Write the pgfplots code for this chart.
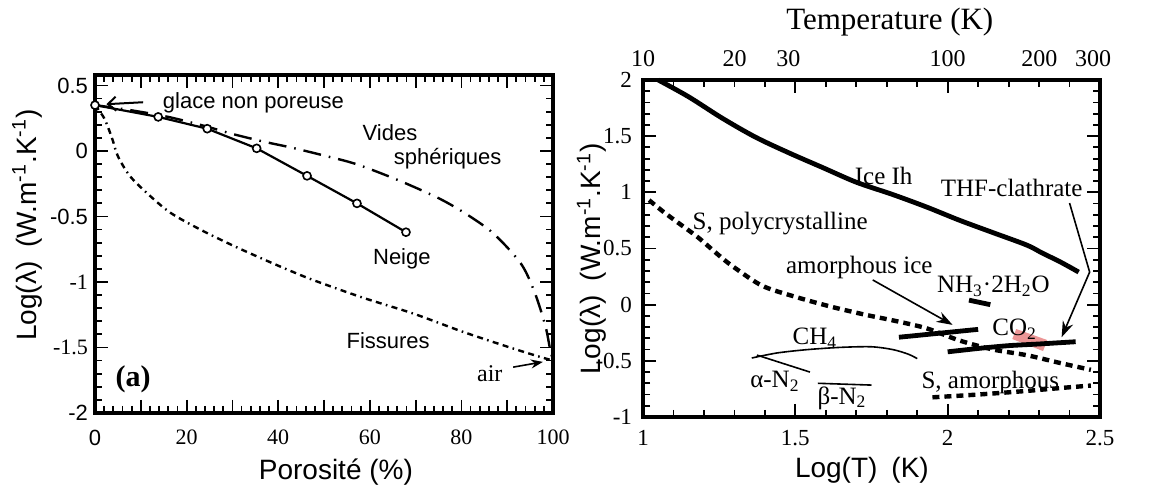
\documentclass[border=0pt]{standalone}
\usepackage{pgfplots}
\pgfplotsset{compat=1.18}
\usepackage{fontspec}
\setmainfont{Liberation Serif}
\setsansfont{Liberation Sans}
\usetikzlibrary{arrows.meta}
\newcommand{\fs}[1]{\fontsize{#1}{#1}\selectfont}
\definecolor{hl}{RGB}{228,105,105}
\pgfplotsset{
  tkv/.style={only marks, mark=|, mark options={solid, line width=0.9pt, black}},
  tkh/.style={only marks, mark=-, mark options={solid, line width=0.9pt, black}},
}
\begin{document}
\begin{tikzpicture}
% ---------------- left panel ----------------
\begin{axis}[
  at={(47.5pt,39.5pt)}, anchor=south west, scale only axis,
  width=229pt, height=169pt,
  xmin=0, xmax=100, ymin=-2, ymax=0.58, clip=false,
  axis on top,
  tick style={color=black, line width=0.9pt},
  major tick length=6.5pt, minor tick length=3.5pt,
  axis line style={line width=2pt},
  xtick={0,10,...,100}, xticklabels={{\sffamily 0},,20,,40,,60,,80,,100},
  minor x tick num=4,
  ytick={-2,-1.5,-1,-0.5,0,0.5},
  yticklabels={{\sffamily -2},-1.5,-1,{\sffamily -0.5},{\sffamily 0},{\sffamily 0.5}},
  minor y tick num=4,
  tick label style={font=\fs{11}},
  x tick label style={yshift=-5pt},
]
% tick marks (inside)
\addplot[tkv, mark size=3.25pt] coordinates {(10,-1.9504)(20,-1.9504)(30,-1.9504)(40,-1.9504)(50,-1.9504)(60,-1.9504)(70,-1.9504)(80,-1.9504)(90,-1.9504)
(10,0.5304)(20,0.5304)(30,0.5304)(40,0.5304)(50,0.5304)(60,0.5304)(70,0.5304)(80,0.5304)(90,0.5304)};
\addplot[tkv, mark size=1.75pt] coordinates {(2,-1.9733)(4,-1.9733)(6,-1.9733)(8,-1.9733)(12,-1.9733)(14,-1.9733)(16,-1.9733)(18,-1.9733)(22,-1.9733)(24,-1.9733)(26,-1.9733)(28,-1.9733)(32,-1.9733)(34,-1.9733)(36,-1.9733)(38,-1.9733)(42,-1.9733)(44,-1.9733)(46,-1.9733)(48,-1.9733)(52,-1.9733)(54,-1.9733)(56,-1.9733)(58,-1.9733)(62,-1.9733)(64,-1.9733)(66,-1.9733)(68,-1.9733)(72,-1.9733)(74,-1.9733)(76,-1.9733)(78,-1.9733)(82,-1.9733)(84,-1.9733)(86,-1.9733)(88,-1.9733)(92,-1.9733)(94,-1.9733)(96,-1.9733)(98,-1.9733)
(2,0.5533)(4,0.5533)(6,0.5533)(8,0.5533)(12,0.5533)(14,0.5533)(16,0.5533)(18,0.5533)(22,0.5533)(24,0.5533)(26,0.5533)(28,0.5533)(32,0.5533)(34,0.5533)(36,0.5533)(38,0.5533)(42,0.5533)(44,0.5533)(46,0.5533)(48,0.5533)(52,0.5533)(54,0.5533)(56,0.5533)(58,0.5533)(62,0.5533)(64,0.5533)(66,0.5533)(68,0.5533)(72,0.5533)(74,0.5533)(76,0.5533)(78,0.5533)(82,0.5533)(84,0.5533)(86,0.5533)(88,0.5533)(92,0.5533)(94,0.5533)(96,0.5533)(98,0.5533)};
\addplot[tkh, mark size=3.25pt] coordinates {(1.419,-1.5)(1.419,-1)(1.419,-0.5)(1.419,0)(1.419,0.5)
(98.581,-1.5)(98.581,-1)(98.581,-0.5)(98.581,0)(98.581,0.5)};
\addplot[tkh, mark size=1.75pt] coordinates {(0.764,-1.9)(0.764,-1.8)(0.764,-1.7)(0.764,-1.6)(0.764,-1.4)(0.764,-1.3)(0.764,-1.2)(0.764,-1.1)(0.764,-0.9)(0.764,-0.8)(0.764,-0.7)(0.764,-0.6)(0.764,-0.4)(0.764,-0.3)(0.764,-0.2)(0.764,-0.1)(0.764,0.1)(0.764,0.2)(0.764,0.3)(0.764,0.4)
(99.236,-1.9)(99.236,-1.8)(99.236,-1.7)(99.236,-1.6)(99.236,-1.4)(99.236,-1.3)(99.236,-1.2)(99.236,-1.1)(99.236,-0.9)(99.236,-0.8)(99.236,-0.7)(99.236,-0.6)(99.236,-0.4)(99.236,-0.3)(99.236,-0.2)(99.236,-0.1)(99.236,0.1)(99.236,0.2)(99.236,0.3)(99.236,0.4)};
% Fissures
\addplot[mark=none, line width=1.2pt, dash pattern=on 3pt off 2.2pt on 3pt off 2.2pt on 0.8pt off 2.2pt, smooth] coordinates {
(0,0.35) (2,0.25) (3.7,0.10) (5,-0.04) (7.6,-0.19) (11.3,-0.32) (16.4,-0.47) (23,-0.60) (30,-0.72) (37,-0.83) (43,-0.92) (48,-0.99) (58.5,-1.12) (69.4,-1.24) (80.3,-1.38) (90.6,-1.50) (97,-1.57) (100,-1.60)};
% Vides spheriques
\addplot[mark=none, line width=1.2pt, dash pattern=on 9pt off 4pt on 0.8pt off 4pt, smooth] coordinates {
(0,0.35) (8,0.31) (16,0.26) (24,0.19) (30,0.13) (37,0.07) (43,0.025) (50,-0.035) (57,-0.10) (66,-0.22) (75,-0.36) (81,-0.48) (87,-0.63) (93,-0.86) (96,-1.08) (98.3,-1.33) (99.3,-1.5) (100,-1.6)};
% Neige
\addplot[line width=1.1pt, mark=*, mark size=2pt, mark options={solid, fill=white, line width=0.8pt}] coordinates {
(0,0.35) (13.8,0.26) (24.5,0.17) (35.3,0.02) (46.3,-0.19) (57.2,-0.40) (67.9,-0.62)};
% arrows
\addplot[mark=none, line width=1pt, -{Straight Barb[length=4pt,width=7pt]}] coordinates {(10.5,0.372) (2.5,0.357)};
\addplot[mark=none, line width=0.8pt, -{Stealth[length=6pt,width=4.5pt]}] coordinates {(91.3,-1.65) (97.8,-1.61)};
% labels
\node[font=\sffamily\fs{11}, anchor=west] at (axis cs:13.3,0.37) {glace non poreuse};
\node[font=\sffamily\fs{11}] at (axis cs:64.4,0.14) {Vides};
\node[font=\sffamily\fs{11}] at (axis cs:77,-0.06) {sphériques};
\node[font=\sffamily\fs{11}] at (axis cs:67,-0.82) {Neige};
\node[font=\sffamily\fs{11}] at (axis cs:64,-1.45) {Fissures};
\node[font=\rmfamily\fs{12}] at (axis cs:86.2,-1.70) {air};
\node[font=\rmfamily\bfseries\fs{15}] at (axis cs:8.3,-1.74) {(a)};
\node[font=\sffamily\fs{14}, rotate=90] at (rel axis cs:-0.1485,0.556) {Log(λ)\enspace (W.m\textsuperscript{-1}.K\textsuperscript{-1})};
\node[font=\sffamily\fs{14}] at (rel axis cs:0.526,-0.175) {Porosité (\%)};
\end{axis}
% ---------------- right panel ----------------
\begin{axis}[
  at={(321.5pt,37.5pt)}, anchor=south west, scale only axis,
  width=228.5pt, height=168.5pt,
  xmin=1, xmax=2.5, ymin=-1, ymax=2, clip=false,
  axis on top,
  tick style={color=black, line width=0.9pt},
  major tick length=6.5pt, minor tick length=3.5pt,
  axis line style={line width=2pt},
  xtick={1,1.5,2,2.5}, xticklabels={1,1.5,2,2.5},
  minor x tick num=4,
  ytick={-1,-0.5,0,0.5,1,1.5,2}, yticklabels={-1,-0.5,0,0.5,1,1.5,2},
  minor y tick num=4,
  tick label style={font=\fs{11.5}},
  x tick label style={yshift=-3pt},
  y tick label style={xshift=-2pt},
]
% tick marks (inside)
\addplot[tkv, mark size=3.25pt] coordinates {(1.5,-0.9421)(2,-0.9421)(1.5,1.9421)(2,1.9421)};
\addplot[tkv, mark size=1.75pt] coordinates {(1.1,-0.9688)(1.2,-0.9688)(1.3,-0.9688)(1.4,-0.9688)(1.6,-0.9688)(1.7,-0.9688)(1.8,-0.9688)(1.9,-0.9688)(2.1,-0.9688)(2.2,-0.9688)(2.3,-0.9688)(2.4,-0.9688)
(1.1,1.9688)(1.2,1.9688)(1.3,1.9688)(1.4,1.9688)(1.6,1.9688)(1.7,1.9688)(1.8,1.9688)(1.9,1.9688)(2.1,1.9688)(2.2,1.9688)(2.3,1.9688)(2.4,1.9688)};
\addplot[tkh, mark size=3.25pt] coordinates {(1.02134,-0.5)(1.02134,0)(1.02134,0.5)(1.02134,1)(1.02134,1.5)
(2.47866,-0.5)(2.47866,0)(2.47866,0.5)(2.47866,1)(2.47866,1.5)};
\addplot[tkh, mark size=1.75pt] coordinates {(1.01149,-0.9)(1.01149,-0.8)(1.01149,-0.7)(1.01149,-0.6)(1.01149,-0.4)(1.01149,-0.3)(1.01149,-0.2)(1.01149,-0.1)(1.01149,0.1)(1.01149,0.2)(1.01149,0.3)(1.01149,0.4)(1.01149,0.6)(1.01149,0.7)(1.01149,0.8)(1.01149,0.9)(1.01149,1.1)(1.01149,1.2)(1.01149,1.3)(1.01149,1.4)(1.01149,1.6)(1.01149,1.7)(1.01149,1.8)(1.01149,1.9)
(2.48851,-0.9)(2.48851,-0.8)(2.48851,-0.7)(2.48851,-0.6)(2.48851,-0.4)(2.48851,-0.3)(2.48851,-0.2)(2.48851,-0.1)(2.48851,0.1)(2.48851,0.2)(2.48851,0.3)(2.48851,0.4)(2.48851,0.6)(2.48851,0.7)(2.48851,0.8)(2.48851,0.9)(2.48851,1.1)(2.48851,1.2)(2.48851,1.3)(2.48851,1.4)(2.48851,1.6)(2.48851,1.7)(2.48851,1.8)(2.48851,1.9)};
% red highlight
\addplot[mark=none, draw=none, fill=hl, fill opacity=0.7] coordinates {(2.225,-0.217) (2.327,-0.315) (2.313,-0.413) (2.212,-0.306)} -- cycle;
% Ice Ih
\addplot[mark=none, line width=2.4pt, smooth] coordinates {
(1.05,2.0) (1.15,1.85) (1.26,1.66) (1.37,1.49) (1.48,1.35) (1.59,1.22) (1.70,1.09) (1.82,0.98) (1.93,0.87) (2.04,0.75) (2.15,0.64) (2.26,0.53) (2.31,0.46) (2.37,0.38) (2.43,0.29)};
% S, polycrystalline
\addplot[mark=none, line width=2.2pt, dash pattern=on 3.5pt off 2.5pt, smooth] coordinates {
(1.02,0.93) (1.07,0.82) (1.12,0.72) (1.18,0.60) (1.24,0.46) (1.29,0.35) (1.39,0.17) (1.50,0.07) (1.62,-0.02) (1.73,-0.09) (1.82,-0.14) (1.93,-0.21) (2.04,-0.32) (2.15,-0.40) (2.26,-0.45) (2.37,-0.52) (2.47,-0.58)};
% S, amorphous
\addplot[mark=none, line width=2.2pt, dash pattern=on 3.5pt off 2.5pt, smooth] coordinates {
(1.95,-0.825) (2.10,-0.80) (2.25,-0.77) (2.38,-0.74) (2.47,-0.72)};
% amorphous ice
\addplot[mark=none, line width=2.4pt] coordinates {(1.84,-0.29) (2.10,-0.22)};
% NH3.2H2O
\addplot[mark=none, line width=2.4pt] coordinates {(2.07,0.04) (2.14,0.0)};
% CO2
\addplot[mark=none, line width=2.4pt, smooth] coordinates {(2.0,-0.42) (2.1,-0.39) (2.2,-0.365) (2.3,-0.35) (2.42,-0.33)};
% CH4
\addplot[mark=none, line width=0.8pt, smooth] coordinates {
(1.357,-0.475) (1.44,-0.43) (1.54,-0.40) (1.65,-0.38) (1.75,-0.375) (1.82,-0.40) (1.87,-0.44) (1.90,-0.48)};
% alpha-N2
\addplot[mark=none, line width=0.8pt] coordinates {(1.374,-0.449) (1.548,-0.60)};
% beta-N2
\addplot[mark=none, line width=0.8pt] coordinates {(1.574,-0.70) (1.75,-0.716)};
% arrows
\addplot[mark=none, line width=0.8pt, -{Stealth[length=8pt,width=5.5pt]}] coordinates {(1.754,0.22) (2.016,-0.18)};
\addplot[mark=none, line width=0.8pt, -{Stealth[length=8pt,width=5.5pt]}] coordinates {(2.40,0.905) (2.466,0.29) (2.374,-0.29)};
% labels
\node[font=\rmfamily\fs{12.5}] at (axis cs:1.79,1.15) {Ice Ih};
\node[font=\rmfamily\fs{12.5}] at (axis cs:2.21,1.04) {THF-clathrate};
\node[font=\rmfamily\fs{12.5}, anchor=west] at (axis cs:1.14,0.72) {S, polycrystalline};
\node[font=\rmfamily\fs{12.5}] at (axis cs:1.71,0.335) {amorphous ice};
\node[font=\rmfamily\fs{12.5}] at (axis cs:2.15,0.165) {NH\textsubscript{3}·2H\textsubscript{2}O};
\node[font=\rmfamily\fs{12.5}] at (axis cs:2.22,-0.22) {CO\textsubscript{2}};
\node[font=\rmfamily\fs{12.5}] at (axis cs:1.564,-0.30) {CH\textsubscript{4}};
\node[font=\rmfamily\fs{12.5}] at (axis cs:1.433,-0.68) {α-N\textsubscript{2}};
\node[font=\rmfamily\fs{12.5}] at (axis cs:1.653,-0.83) {β-N\textsubscript{2}};
\node[font=\rmfamily\fs{12.5}] at (axis cs:2.14,-0.69) {S, amorphous};
\node[font=\sffamily\fs{14}, rotate=90] at (rel axis cs:-0.112,0.469) {Log(λ)\enspace (W.m\textsuperscript{-1}.K\textsuperscript{-1})};
\node[font=\sffamily\fs{14}] at (rel axis cs:0.479,-0.157) {Log(T)\enspace (K)};
\end{axis}
% ---------------- top temperature axis ----------------
\begin{axis}[
  at={(321.5pt,37.5pt)}, anchor=south west, scale only axis,
  width=228.5pt, height=168.5pt,
  xmin=1, xmax=2.5, ymin=-1, ymax=2, clip=false,
  axis x line*=top, hide y axis,
  x axis line style={draw=none},
  xtick={1,1.30103,1.47712,2,2.30103,2.47712},
  xticklabels={10,20,30,100,200,300},
  major tick length=0pt,
  x tick label style={font=\rmfamily\fs{12}, yshift=3pt},
]
\node[font=\rmfamily\fs{15.5}] at (rel axis cs:0.54,1.172) {Temperature (K)};
\end{axis}
% page extent (invisible)
\path (0,0) rectangle (580.5pt,246pt);
\end{tikzpicture}
\end{document}
